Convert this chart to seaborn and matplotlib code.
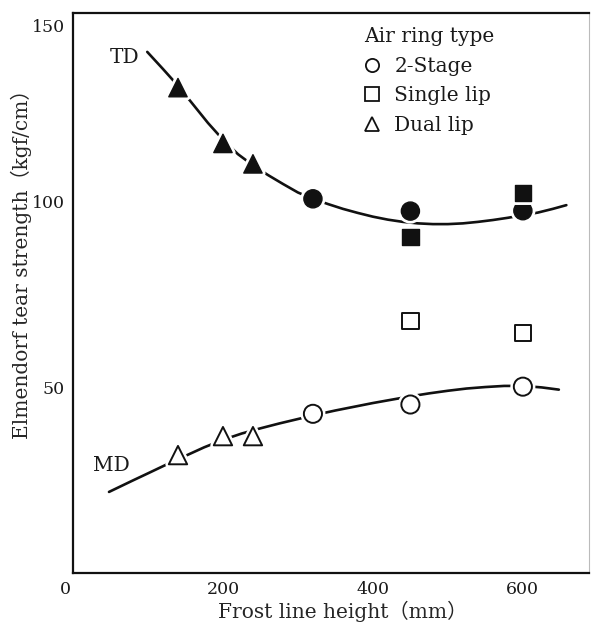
import matplotlib
matplotlib.use("Agg")
import matplotlib.pyplot as plt
import matplotlib.patheffects as pe
import matplotlib.transforms as mtransforms
from matplotlib.lines import Line2D
import pandas as pd
import seaborn as sns

# Elmendorf tear strength (kgf/cm) against frost line height (mm)
td_dual_x = [140, 200, 240]
td_dual_y = [130.5, 115.5, 110.0]
td_2stage_x = [320, 450, 600]
td_2stage_y = [100.6, 97.3, 97.4]
td_single_x = [450, 600]
td_single_y = [90.3, 102.2]

md_dual_x = [140, 200, 240]
md_dual_y = [31.7, 36.8, 36.8]
md_2stage_x = [320, 450, 600]
md_2stage_y = [42.8, 45.3, 50.1]
md_single_x = [450, 600]
md_single_y = [67.7, 64.6]

# Hand-drawn trend curves through each direction
td_curve_x = [99, 120, 140, 160, 180, 200, 220, 240, 260, 280, 300, 320, 340, 360, 380,
              400, 420, 440, 460, 480, 500, 520, 540, 560, 580, 600, 620, 640, 658]
td_curve_y = [140.1, 135.5, 131.0, 126.0, 121.0, 116.5, 112.6, 109.6, 107.0, 104.6, 102.3,
              100.6, 99.2, 97.9, 96.8, 95.8, 95.0, 94.4, 94.0, 93.8, 93.8, 94.0, 94.4,
              94.9, 95.5, 96.2, 96.9, 97.9, 98.9]
md_curve_x = [48, 80, 100, 125, 150, 175, 200, 225, 250, 275, 300, 325, 350, 375, 400,
              425, 450, 475, 500, 525, 550, 575, 600, 625, 648]
md_curve_y = [21.8, 24.9, 26.8, 29.2, 31.5, 33.8, 35.8, 37.5, 38.9, 40.2, 41.4, 42.6, 43.7,
              44.7, 45.7, 46.6, 47.5, 48.3, 49.0, 49.6, 50.0, 50.3, 50.3, 49.9, 49.3]

ring_types = ["2-Stage", "Single lip", "Dual lip"]
ring_markers = {"2-Stage": "o", "Single lip": "s", "Dual lip": "^"}
ring_sizes = {"2-Stage": 170, "Single lip": 140, "Dual lip": 175}

x_major = [0, 200, 400, 600]
x_minor = [100, 300, 500]
y_major = [50, 100, 150]


def points(xs_by_ring, ys_by_ring):
    rows = []
    for ring, xs, ys in zip(ring_types, xs_by_ring, ys_by_ring):
        for x, y in zip(xs, ys):
            rows.append({"height": x, "strength": y, "ring": ring})
    return pd.DataFrame(rows)


td = points([td_2stage_x, td_single_x, td_dual_x], [td_2stage_y, td_single_y, td_dual_y])
md = points([md_2stage_x, md_single_x, md_dual_x], [md_2stage_y, md_single_y, md_dual_y])

sns.set_theme(style="white")
plt.rcParams["font.family"] = ["DejaVu Serif", "Noto Sans CJK JP"]
plt.rcParams["text.color"] = "#1a1a1a"

fig = plt.figure(figsize=(5.96, 6.29), dpi=100)
ax = fig.add_axes([0.1225, 0.089, 0.8655, 0.890])

halo = [pe.withStroke(linewidth=5, foreground="white")]

sns.lineplot(x=td_curve_x, y=td_curve_y, sort=False, estimator=None,
             color="#111111", lw=1.9, ax=ax)
sns.lineplot(x=md_curve_x, y=md_curve_y, sort=False, estimator=None,
             color="#111111", lw=1.9, ax=ax)

sns.scatterplot(data=td, x="height", y="strength", style="ring", markers=ring_markers,
                size="ring", sizes=ring_sizes, color="#111111", edgecolor="#111111",
                linewidth=1.0, legend=False, ax=ax, zorder=3)
ax.collections[-1].set_path_effects(halo)
sns.scatterplot(data=md, x="height", y="strength", style="ring", markers=ring_markers,
                size="ring", sizes=ring_sizes, color="white", edgecolor="#111111",
                linewidth=1.4, legend=False, ax=ax, zorder=3)
ax.collections[-1].set_path_effects(halo)

ax.text(69, 138.7, "TD", fontsize=14.5, ha="center", va="center")
ax.text(51, 29, "MD", fontsize=14.5, ha="center", va="center")

ax.set_xlim(0, 688)
ax.set_ylim(0, 150.5)
ax.set_xticks(x_major)
ax.set_xticks(x_minor, minor=True)
ax.set_xticklabels([str(v) for v in x_major])
ax.set_yticks(y_major)
ax.set_yticklabels([str(v) for v in y_major])
ax.tick_params(axis="both", which="both", direction="in", length=9, width=1.5,
               color="#111111", labelsize=12.5, labelcolor="#1a1a1a")
ax.tick_params(axis="x", pad=6)
ax.tick_params(axis="y", pad=6)


def nudge(label, dx_px, dy_px):
    label.set_transform(label.get_transform() +
                        mtransforms.ScaledTranslation(dx_px / 100, dy_px / 100,
                                                      fig.dpi_scale_trans))


# shared origin label sits just left of the corner; top label hangs below its tick
nudge(ax.get_xticklabels()[0], -8, 0)
nudge(ax.get_yticklabels()[-1], 0, -10)

ax.set_xlabel("Frost line height（mm）", fontsize=14.5, labelpad=2)
ax.set_ylabel("Elmendorf tear strength（kgf/cm）", fontsize=14.5, labelpad=0)
ax.xaxis.label.set_x(0.523)
ax.yaxis.label.set_y(0.56)

for side in ["left", "bottom", "top"]:
    ax.spines[side].set_color("#111111")
    ax.spines[side].set_linewidth(1.6)
ax.spines["right"].set_color("#bbbbbb")
ax.spines["right"].set_linewidth(0.8)

handles = [Line2D([], [], ls="", marker=ring_markers[r],
                  markersize=10.5 if r == "Dual lip" else 9.5,
                  markerfacecolor="white", markeredgecolor="#111111", markeredgewidth=1.3)
           for r in ring_types]
leg = ax.legend(handles, ring_types, title="Air ring type", loc="upper left",
                bbox_to_anchor=(364 / 596, 1 - 27 / 629), bbox_transform=fig.transFigure,
                frameon=False, fontsize=14.5, title_fontsize=14.5, alignment="left",
                borderpad=0, handlelength=0.75, handletextpad=0.75, labelspacing=0.53,
                borderaxespad=0)

fig.savefig("out.png", dpi=100)
